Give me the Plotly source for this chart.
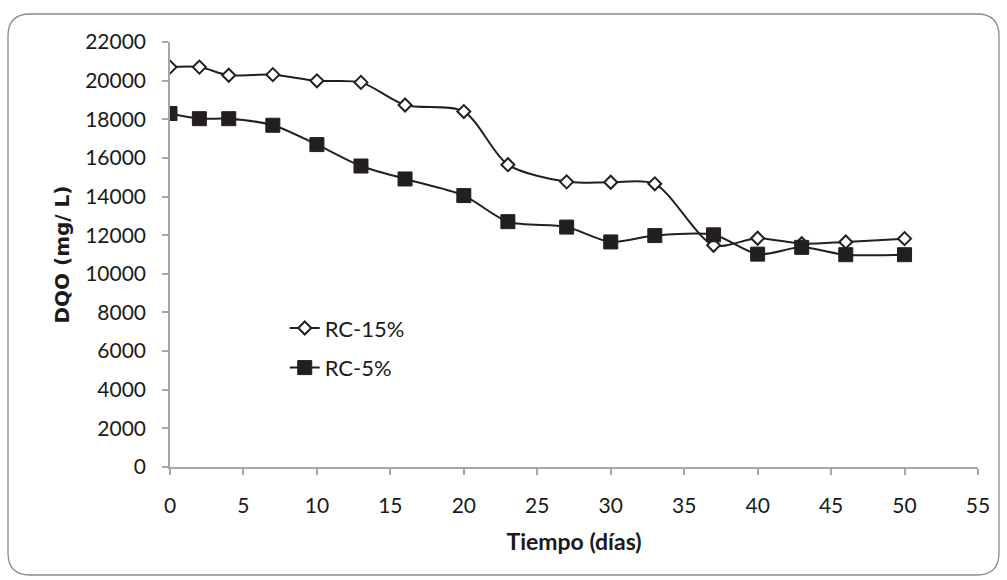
import plotly.graph_objects as go

# Sampling days
dias = [0, 2, 4, 7, 10, 13, 16, 20, 23, 27, 30, 33, 37, 40, 43, 46, 50]

# DQO (mg/L) per reactor
rc15 = [20700, 20700, 20280, 20310, 19990, 19910, 18740, 18400, 15650,
        14760, 14740, 14660, 11480, 11840, 11560, 11650, 11820]
rc5 = [18300, 18030, 18030, 17690, 16690, 15580, 14910, 14050, 12700,
       12420, 11650, 11980, 12020, 11020, 11370, 10990, 10990]

x_ticks = list(range(0, 56, 5))
y_ticks = list(range(0, 22001, 2000))
y_labels = [str(v) for v in y_ticks]

INK = "#231F20"
AXIS = "#A6A6A6"
FONT = "Lato, 'Open Sans', sans-serif"

W, H = 1007, 580
L, R, T, B = 170, 29, 42, 113

fig = go.Figure()
fig.add_trace(go.Scatter(
    x=dias, y=rc15, name="RC-15%", mode="lines+markers",
    line=dict(color=INK, width=2, shape="spline", smoothing=0.8),
    marker=dict(symbol="diamond", size=10, color="white",
                line=dict(color=INK, width=2)),
    legendgroup="a",
))
fig.add_trace(go.Scatter(
    x=dias, y=rc5, name="RC-5%", mode="lines+markers",
    line=dict(color=INK, width=2, shape="spline", smoothing=0.8),
    marker=dict(symbol="square", size=14, color=INK,
                line=dict(color=INK, width=1)),
    legendgroup="b",
))

# Rounded frame around the whole chart, in paper units
pw, ph = W - L - R, H - T - B
def px(xp):
    return (xp - L) / pw
def py(yp):
    return (H - B - yp) / ph

x0, y0, x1, y1, rad = 8, 14, 999, 575, 22
path = (
    f"M {px(x0 + rad)},{py(y0)} L {px(x1 - rad)},{py(y0)} "
    f"Q {px(x1)},{py(y0)} {px(x1)},{py(y0 + rad)} "
    f"L {px(x1)},{py(y1 - rad)} Q {px(x1)},{py(y1)} {px(x1 - rad)},{py(y1)} "
    f"L {px(x0 + rad)},{py(y1)} Q {px(x0)},{py(y1)} {px(x0)},{py(y1 - rad)} "
    f"L {px(x0)},{py(y0 + rad)} Q {px(x0)},{py(y0)} {px(x0 + rad)},{py(y0)} Z"
)
fig.add_shape(type="path", path=path, xref="paper", yref="paper",
              line=dict(color="#8C8C8C", width=1.3), layer="below")

fig.update_layout(
    width=W, height=H,
    margin=dict(l=L, r=R, t=T, b=B),
    paper_bgcolor="white", plot_bgcolor="white",
    font=dict(family=FONT, size=21, color="#1a1a1a"),
    showlegend=True,
    legend=dict(x=0.142, y=0.376, xanchor="left", yanchor="top",
                bgcolor="rgba(0,0,0,0)", tracegroupgap=8,
                traceorder="grouped", font=dict(size=22)),
    xaxis=dict(range=[0, 55], tickvals=x_ticks, showgrid=False,
               zeroline=False, showline=True, linecolor=AXIS, linewidth=1.5,
               ticks="outside", ticklen=6, tickcolor=AXIS, tickwidth=1.5,
               ticklabelstandoff=13,
               title=dict(text="<b>Tiempo (días)</b>", standoff=18,
                          font=dict(size=23))),
    yaxis=dict(range=[0, 22000], tickvals=y_ticks, ticktext=y_labels,
               showgrid=False,
               zeroline=False, showline=True, linecolor=AXIS, linewidth=1.5,
               ticks="outside", ticklen=6, tickcolor=AXIS, tickwidth=1.5,
               ticklabelstandoff=12,
               title=dict(text="<b>DQO (mg/ L)</b>", standoff=10,
                          font=dict(size=20,
                                    family="'DejaVu Sans', sans-serif"))),
)

fig.write_html("out.html")
